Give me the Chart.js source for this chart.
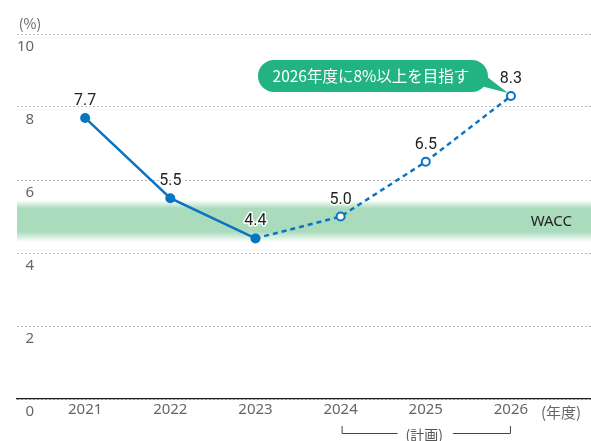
<!DOCTYPE html>
<html><head><meta charset="utf-8">
<script src="https://cdn.jsdelivr.net/npm/chart.js@4/dist/chart.umd.min.js"></script>
<style>html,body{margin:0;padding:0;background:#fff}#wrap{width:591px;height:441px}</style>
</head><body><div id="wrap"><canvas id="c" width="591" height="441"></canvas></div>
<script>
const years = [2021, 2022, 2023, 2024, 2025, 2026];
const actualYears = [2021, 2022, 2023];
const actualValues = [7.7, 5.5, 4.4];
const planYears = [2023, 2024, 2025, 2026];
const planValues = [4.4, 5.0, 6.5, 8.3];
const yTicks = [0, 2, 4, 6, 8, 10];
const waccRange = [4.3, 5.45];
const waccLabel = 'WACC';
const calloutText = '2026年度に8%以上を目指す';
const yUnit = '(%)';
const xUnit = '(年度)';
const planLabel = '(計画)';
const planSpan = [2024, 2026];

const BLUE = '#0a74c2';
const GREEN = '#22b383';
const BAND = '170,219,188';
const TICK_FONT = '"Noto Sans", sans-serif';

const decor = {
  id: 'decor',
  beforeDatasetsDraw(chart) {
    const {ctx, chartArea: a, scales: {y}} = chart;
    const top = y.getPixelForValue(waccRange[1]);
    const bot = y.getPixelForValue(waccRange[0]);
    const g = ctx.createLinearGradient(0, top, 0, bot);
    g.addColorStop(0, 'rgba(' + BAND + ',0)');
    g.addColorStop(0.2, 'rgba(' + BAND + ',1)');
    g.addColorStop(0.75, 'rgba(' + BAND + ',1)');
    g.addColorStop(1, 'rgba(' + BAND + ',0)');
    ctx.save();
    ctx.fillStyle = g;
    ctx.fillRect(a.left, top, a.right - a.left, bot - top);
    ctx.fillStyle = '#222';
    ctx.font = '15px "Noto Sans", sans-serif';
    ctx.textAlign = 'right';
    ctx.textBaseline = 'middle';
    ctx.fillText(waccLabel, a.right - 19, (top + bot) / 2 + 1);
    ctx.restore();
  },
  afterDatasetsDraw(chart) {
    const {ctx, scales: {x, y}} = chart;
    ctx.save();
    // value labels
    ctx.font = '16px Roboto, sans-serif';
    ctx.textAlign = 'center';
    ctx.textBaseline = 'bottom';
    ctx.lineJoin = 'round';
    const pts = [];
    chart.getDatasetMeta(0).data.forEach((p, i) => pts.push([p.x, p.y, actualValues[i]]));
    chart.getDatasetMeta(1).data.forEach((p, i) => { if (i > 0) pts.push([p.x, p.y, planValues[i]]); });
    pts.forEach(([px, py, v]) => {
      const t = v.toFixed(1);
      ctx.strokeStyle = '#fff';
      ctx.lineWidth = 3;
      ctx.strokeText(t, px, py - 9);
      ctx.fillStyle = '#222';
      ctx.fillText(t, px, py - 9);
    });
    // callout
    const last = chart.getDatasetMeta(1).data[planValues.length - 1];
    const px = last.x, py = last.y;
    const bx = px - 253, by = py - 36, bw = 230, bh = 32, r = 16;
    ctx.fillStyle = GREEN;
    ctx.beginPath();
    ctx.moveTo(bx + r, by);
    ctx.lineTo(bx + bw - r, by);
    ctx.arc(bx + bw - r, by + r, r, -Math.PI / 2, Math.PI / 2);
    ctx.lineTo(bx + r, by + bh);
    ctx.arc(bx + r, by + r, r, Math.PI / 2, Math.PI * 1.5);
    ctx.closePath();
    ctx.fill();
    ctx.beginPath();
    ctx.moveTo(px - 34, py - 27);
    ctx.lineTo(px - 3, py - 3);
    ctx.lineTo(px - 34, py - 11);
    ctx.closePath();
    ctx.fill();
    ctx.fillStyle = '#fff';
    ctx.font = '15.5px "Noto Sans CJK JP", sans-serif';
    ctx.textAlign = 'center';
    ctx.textBaseline = 'middle';
    ctx.fillText(calloutText, bx + 113, by + bh / 2);
    // units
    ctx.fillStyle = '#666';
    ctx.font = '14px "Noto Sans CJK JP", sans-serif';
    ctx.textAlign = 'center';
    ctx.fillText(yUnit, 30, 24);
    ctx.font = '15px "Noto Sans CJK JP", sans-serif';
    ctx.fillText(xUnit, 561, 412);
    // plan bracket
    const x1 = x.getPixelForValue(planSpan[0]) + 1;
    const x2 = x.getPixelForValue(planSpan[1]);
    const ly = 433.5;
    ctx.strokeStyle = '#444';
    ctx.lineWidth = 1;
    ctx.beginPath();
    ctx.moveTo(x1 + 0.5, 426); ctx.lineTo(x1 + 0.5, ly); ctx.lineTo(x1 + 56, ly);
    ctx.moveTo(x2 - 58, ly); ctx.lineTo(x2 - 0.5, ly); ctx.lineTo(x2 - 0.5, 426);
    ctx.stroke();
    ctx.fillStyle = '#555';
    ctx.font = '14px "Noto Sans CJK JP", sans-serif';
    ctx.fillText(planLabel, (x1 + x2) / 2 - 2, 435);
    ctx.restore();
  }
};

new Chart(document.getElementById('c'), {
  type: 'line',
  data: {
    datasets: [
      {
        data: actualYears.map((v, i) => ({x: v, y: actualValues[i]})),
        borderColor: BLUE, borderWidth: 2.5,
        pointRadius: 5, pointBackgroundColor: BLUE, pointBorderColor: BLUE, pointBorderWidth: 0,
        tension: 0, order: 0
      },
      {
        data: planYears.map((v, i) => ({x: v, y: planValues[i]})),
        borderColor: BLUE, borderWidth: 2.5, borderDash: [5, 4],
        pointRadius: planValues.map((v, i) => i === 0 ? 0 : 4),
        pointBackgroundColor: '#fff', pointBorderColor: BLUE, pointBorderWidth: 2,
        tension: 0, order: 1
      }
    ]
  },
  options: {
    responsive: false, animation: false, devicePixelRatio: 1,
    layout: {autoPadding: false, padding: {left: 17, right: 0, top: 34, bottom: 0}},
    plugins: {legend: {display: false}, tooltip: {enabled: false}},
    scales: {
      x: {
        type: 'linear', min: 2020.2, max: 2026.94,
        afterBuildTicks: s => { s.ticks = years.map(v => ({value: v})); },
        afterFit: s => { s.height = 42; s.paddingLeft = 0; s.paddingRight = 0; },
        ticks: {callback: v => String(v), color: '#666', font: {family: TICK_FONT, size: 15}, padding: 2, maxRotation: 0, autoSkip: false},
        grid: {display: false, drawTicks: false},
        border: {color: '#222', width: 1.3}
      },
      y: {
        min: 0, max: 10,
        afterBuildTicks: s => { s.ticks = yTicks.map(v => ({value: v})); },
        afterFit: s => { s.width = 0; s.paddingTop = 0; s.paddingBottom = 0; },
        ticks: {mirror: true, crossAlign: 'far', padding: 0, labelOffset: 13, color: '#666', font: {family: TICK_FONT, size: 15}},
        grid: {color: '#b8b8b8', lineWidth: 1, drawTicks: false},
        border: {display: false, dash: [2, 2]}
      }
    }
  },
  plugins: [decor]
});
</script>
</body></html>
